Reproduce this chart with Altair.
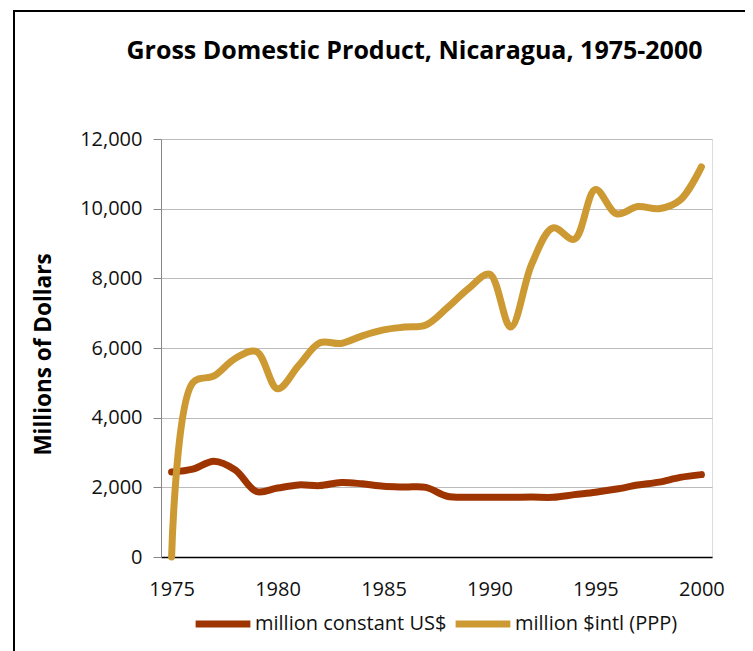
import altair as alt
import pandas as pd

years = list(range(1975, 2001))
usd = [2440, 2520, 2750, 2500, 1880, 1980, 2070, 2050, 2140, 2100, 2030, 2010, 2000,
       1745, 1715, 1715, 1715, 1720, 1715, 1790, 1860, 1950, 2065, 2150, 2285, 2365]
ppp = [0, 5000, 5200, 5700, 5900, 4830, 5500, 6150, 6130, 6350, 6520, 6600, 6660,
       7150, 7700, 8120, 6600, 8420, 9450, 9120, 10550, 9850, 10060, 10000, 10250, 11200]
series_names = ["million constant US$", "million $intl (PPP)"]
series_colors = ["#9E3500", "#CC9933"]
y_ticks = [0, 2000, 4000, 6000, 8000, 10000, 12000]
x_ticks = [1975, 1980, 1985, 1990, 1995, 2000]

rows = []
for name, vals in zip(series_names, [usd, ppp]):
    for yr, v in zip(years, vals):
        rows.append({"year": yr, "value": v, "series": name})
df = pd.DataFrame(rows)

FONT = "Open Sans"

lines = alt.Chart(df).mark_line(
    strokeWidth=7, strokeCap="round", strokeJoin="round", interpolate="catmull-rom"
).encode(
    x=alt.X("year:Q",
            scale=alt.Scale(domain=[1974.5, 2000.5], nice=False, zero=False),
            axis=alt.Axis(values=x_ticks, format="d", title=None, ticks=False, grid=False,
                          domainColor="#000000", domainWidth=1.5, labelFontSize=20,
                          labelFont=FONT, labelColor="#111111", labelPadding=22)),
    y=alt.Y("value:Q",
            scale=alt.Scale(domain=[0, 12000], nice=False),
            axis=alt.Axis(values=y_ticks, format=",d", title="Millions of Dollars",
                          titleFont=FONT, titleFontSize=22.5, titleFontWeight="bold",
                          titleColor="#000000", titleX=-111, titleY=215,
                          titleBaseline="alphabetic", titleAngle=270,
                          labelFontSize=20, labelFont=FONT, labelColor="#111111",
                          labelPadding=11, tickSize=8, tickColor="#888888",
                          domainColor="#888888", gridColor="#BBBBBB", gridWidth=1)),
    color=alt.Color("series:N",
                    scale=alt.Scale(domain=series_names, range=series_colors),
                    sort=series_names,
                    legend=alt.Legend(title=None, orient="none", legendX=31, legendY=454,
                                      direction="horizontal", symbolType="stroke",
                                      symbolSize=3000, symbolStrokeWidth=7,
                                      labelFont=FONT, labelFontSize=20, labelColor="#111111",
                                      labelOffset=1, columnPadding=-6, labelLimit=0)),
    order="year:Q",
)

frame = alt.Chart(alt.Data(values=[{}])).mark_rect(
    fillOpacity=0, stroke="#000000", strokeWidth=2
).encode(
    x=alt.value(-147), x2=alt.value(700), y=alt.value(-128), y2=alt.value(700)
)

chart = alt.layer(lines, frame).properties(
    width=551, height=418,
    title=alt.TitleParams("Gross Domestic Product, Nicaragua, 1975-2000",
                          font=FONT, fontSize=25, fontWeight="bold", color="#000000",
                          anchor="middle", dx=-22, offset=-74, baseline="alphabetic"),
    autosize=alt.AutoSizeParams(type="none"),
    padding={"left": 153, "top": 131, "right": 33, "bottom": 94},
).configure_view(stroke=None).configure(background="white")

chart.save("out.html", embed_options={"renderer": "svg", "actions": False})
